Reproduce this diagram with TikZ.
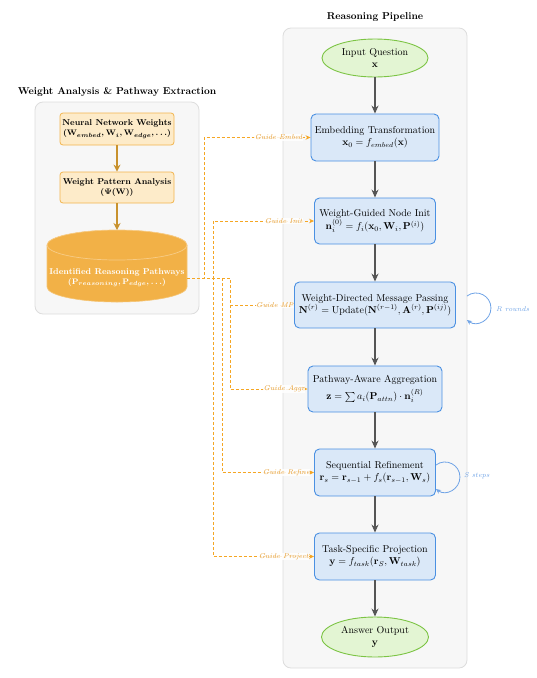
\documentclass[tikz,border=0pt]{standalone}
\usetikzlibrary{arrows.meta,calc,shapes.geometric}
\definecolor{panelfill}{HTML}{F7F7F7}
\definecolor{panelline}{HTML}{DDDDDD}
\definecolor{bluefill}{HTML}{DAE8F8}
\definecolor{blueline}{HTML}{4A90E2}
\definecolor{greenfill}{HTML}{E3F5D3}
\definecolor{greenline}{HTML}{7CC444}
\definecolor{orfill}{HTML}{FDEBC9}
\definecolor{orline}{HTML}{F2B54E}
\definecolor{cylfill}{HTML}{F2B147}
\definecolor{goldarrow}{HTML}{C8922E}
\definecolor{guide}{HTML}{F5A623}
\definecolor{guidetext}{HTML}{E59A2A}
\definecolor{loopblue}{HTML}{6FA3E6}
\definecolor{darkarrow}{HTML}{555555}
\begin{document}
\begin{tikzpicture}[x=1pt,y=-1pt,
 panel/.style={draw=panelline,fill=panelfill,rounded corners=8pt,line width=0.8pt},
 procbox/.style={draw=blueline,fill=bluefill,rounded corners=5pt,line width=0.9pt,align=center,inner sep=2pt},
 termnode/.style={ellipse,draw=greenline,fill=greenfill,line width=0.9pt,align=center,inner sep=0pt},
 wbox/.style={draw=orline,fill=orfill,rounded corners=3pt,line width=0.8pt,align=center,font=\fontsize{8.5}{10}\selectfont\bfseries\boldmath,minimum width=114pt,minimum height=32pt,inner sep=1pt},
 mainarrow/.style={draw=darkarrow,line width=1.1pt,-{Stealth[length=8pt,width=7pt]}},
 goldarr/.style={draw=goldarrow,line width=1.3pt,-{Stealth[length=7pt,width=7pt]}},
 guidearrow/.style={draw=guide,line width=0.8pt,dash pattern=on 3pt off 2pt,-{Stealth[length=5pt,width=4.5pt]}},
 guidelabel/.style={font=\scriptsize\itshape,text=guidetext,fill=white,fill opacity=0.85,text opacity=1,inner sep=0.6pt,pos=0.7},
 looparrow/.style={draw=loopblue,line width=0.8pt,-{Stealth[length=5pt,width=4.5pt]}},
 looplabel/.style={font=\scriptsize\itshape,text=loopblue,anchor=west,inner sep=0pt},
 paneltitle/.style={font=\bfseries,inner sep=0pt}]
\useasboundingbox (0,0) rectangle (537,678);
% panels
\draw[panel] (35,102) rectangle (199,314);
\draw[panel] (283,28) rectangle (467,668);
\node[paneltitle] (ttlR) at (375,17) {Reasoning Pipeline};
\node[paneltitle] (ttlL) at (117,92) {Weight Analysis \& Pathway Extraction};
% left column
\node[wbox] (nnw) at (117,129) {Neural Network Weights\\$(\mathbf{W}_{embed}, \mathbf{W}_i, \mathbf{W}_{edge}, \ldots)$};
\node[wbox,minimum height=31pt] (wpa) at (117,187.5) {Weight Pattern Analysis\\$(\Psi(\mathbf{W}))$};
% cylinder
\fill[cylfill] (47,245) -- (47,287) arc[start angle=180,end angle=0,x radius=70,y radius=15] -- (187,245) arc[start angle=0,end angle=-180,x radius=70,y radius=15] -- cycle;
\draw[cylfill!75!white,line width=0.6pt] (47,245) -- (47,287) arc[start angle=180,end angle=0,x radius=70,y radius=15] -- (187,245);
\draw[cylfill!65!white,line width=0.7pt,fill=cylfill] (117,245) ellipse[x radius=70,y radius=15];
\node[font=\fontsize{8.5}{10}\selectfont\bfseries\boldmath,text=white,align=center,inner sep=0pt] (cyl) at (117,277.5) {Identified Reasoning Pathways\\$(\mathbf{P}_{reasoning}, \mathbf{P}_{edge}, \ldots)$};
\coordinate (cylT) at (117,230);
\coordinate (cylE) at (187,278);
\draw[goldarr] (nnw) -- (wpa);
\draw[goldarr] (wpa) -- (cylT);
% pipeline
\node[termnode,minimum width=106pt,minimum height=38pt] (inq) at (375,58) {Input Question\\$\mathbf{x}$};
\node[procbox,minimum width=128pt,minimum height=47pt] (emb) at (375,137.5) {Embedding Transformation\\$\mathbf{x}_0 = f_{embed}(\mathbf{x})$};
\node[procbox,minimum width=121pt,minimum height=46pt] (ini) at (375,221) {Weight-Guided Node Init\\$\mathbf{n}_i^{(0)} = f_i(\mathbf{x}_0, \mathbf{W}_i, \mathbf{P}^{(i)})$};
\node[procbox,minimum width=161pt,minimum height=46pt] (mp) at (375,305) {Weight-Directed Message Passing\\$\mathbf{N}^{(r)} = \mathrm{Update}(\mathbf{N}^{(r-1)}, \mathbf{A}^{(r)}, \mathbf{P}^{(ij)})$};
\node[procbox,minimum width=134pt,minimum height=46pt] (agg) at (375,389) {Pathway-Aware Aggregation\\[3.5pt]$\mathbf{z} = \sum a_i(\mathbf{P}_{attn}) \cdot \mathbf{n}_i^{(R)}$};
\node[procbox,minimum width=121pt,minimum height=47pt] (ref) at (375,472.5) {Sequential Refinement\\$\mathbf{r}_s = \mathbf{r}_{s-1} + f_s(\mathbf{r}_{s-1}, \mathbf{W}_s)$};
\node[procbox,minimum width=121pt,minimum height=47pt] (prj) at (375,556.5) {Task-Specific Projection\\$\mathbf{y} = f_{task}(\mathbf{r}_S, \mathbf{W}_{task})$};
\node[termnode,minimum width=107pt,minimum height=40pt] (ans) at (375,637) {Answer Output\\$\mathbf{y}$};
\draw[mainarrow] (inq) -- (emb);
\draw[mainarrow] (emb) -- (ini);
\draw[mainarrow] (ini) -- (mp);
\draw[mainarrow] (mp) -- (agg);
\draw[mainarrow] (agg) -- (ref);
\draw[mainarrow] (ref) -- (prj);
\draw[mainarrow] (prj) -- (ans);
% loops
\draw[looparrow] ($(mp.east)+(11,-9)$) .. controls ($(mp.east)+(20.9,-16.4)$) and ($(mp.east)+(35,-9.4)$) .. ($(mp.east)+(35,3)$) .. controls ($(mp.east)+(35,15.4)$) and ($(mp.east)+(20.9,22.4)$) .. ($(mp.east)+(11,15)$);
\node[looplabel] (rlab) at (496,309) {R rounds};
\draw[looparrow] ($(ref.east)+(0,-7.5)$) .. controls ($(ref.east)+(9.9,-14.9)$) and ($(ref.east)+(24,-7.9)$) .. ($(ref.east)+(24,4.5)$) .. controls ($(ref.east)+(24,16.9)$) and ($(ref.east)+(9.9,23.9)$) .. ($(ref.east)+(0,16.5)$);
\node[looplabel] (slab) at (464,476) {S steps};
% guide connectors
\coordinate (xE) at (204,0);
\coordinate (xI) at (213,0);
\coordinate (xM) at (230,0);
\coordinate (xR) at (222,0);
\draw[guidearrow] (cylE) -- (cylE -| xE) -- (xE |- emb.west) -- node[guidelabel] (gE) {Guide Embed} (emb.west);
\draw[guidearrow] (cylE) -- (cylE -| xI) -- (xI |- ini.west) -- node[guidelabel] (gI) {Guide Init} (ini.west);
\draw[guidearrow] (cylE) -- (cylE -| xM) -- (xM |- mp.west) -- node[guidelabel] (gM) {Guide MP} (mp.west);
\draw[guidearrow] (cylE) -- (cylE -| xM) -- (xM |- agg.west) -- node[guidelabel] (gA) {Guide Aggr} (agg.west);
\draw[guidearrow] (cylE) -- (cylE -| xR) -- (xR |- ref.west) -- node[guidelabel] (gR) {Guide Refine} (ref.west);
\draw[guidearrow] (cylE) -- (cylE -| xI) -- (xI |- prj.west) -- node[guidelabel] (gP) {Guide Project} (prj.west);
\end{tikzpicture}
\end{document}
